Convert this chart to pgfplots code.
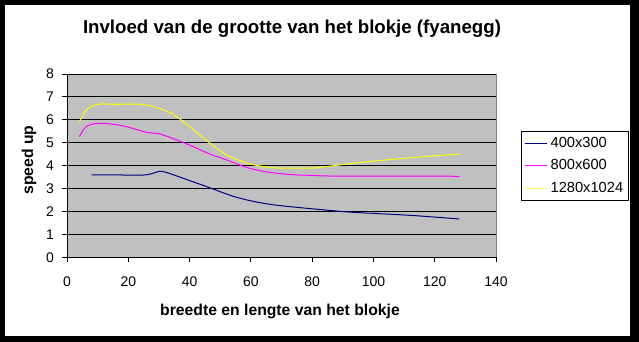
\documentclass[border=0pt]{standalone}
\usepackage{pgfplots}
\pgfplotsset{compat=1.18}
\usepackage{fontspec}
\setmainfont{Liberation Sans}
\definecolor{bgGray}{HTML}{C0C0C0}
\definecolor{brdGray}{HTML}{808080}
\definecolor{navy}{HTML}{000080}
\definecolor{mag}{HTML}{FF00FF}
\definecolor{yel}{HTML}{FFFF00}
\begin{document}
\begin{tikzpicture}[x=0.75pt,y=0.75pt]
\fill[black] (0,0) rectangle (639,342);
\fill[white] (5,6) rectangle (630,337);
\useasboundingbox (0,0) rectangle (639,342);
\node[font=\bfseries\fontsize{14pt}{16pt}\selectfont] at (292,313) {Invloed van de grootte van het blokje (fyanegg)};
\node[font=\bfseries\fontsize{11.8pt}{14pt}\selectfont] at (280,31) {breedte en lengte van het blokje};
\node[font=\bfseries\fontsize{11.8pt}{14pt}\selectfont, rotate=90] at (29,182) {speed up};
\begin{axis}[
  at={(50.25pt,63.375pt)}, anchor=south west,
  scale only axis, width=321.75pt, height=137.6pt,
  xmin=0, xmax=140, ymin=0, ymax=8,
  xtick={0,20,...,140}, ytick={0,1,...,8},
  axis background/.style={fill=bgGray, draw=brdGray, line width=0.75pt},
  axis x line*=bottom, axis y line*=left,
  axis line style={black, line width=0.75pt, -},
  tick align=outside, major tick length=3.75pt,
  tick style={black, line width=0.75pt},
  ymajorgrids, major grid style={black, line width=0.75pt},
  /pgf/number format/assume math mode=true,
  ticklabel style={font=\fontsize{10.5pt}{12pt}\selectfont},
  xticklabel style={yshift=-7pt},
  yticklabel style={xshift=-2.6pt},
  legend style={at={(1,0.5)}, anchor=west, xshift=18.75pt, draw=black, line width=0.75pt,
    font=\fontsize{11pt}{13pt}\selectfont, row sep=3.5pt, fill=white, inner xsep=2pt, inner ysep=2.5pt},
  legend cell align=left,
]
\addplot[navy, line width=0.75pt, smooth] coordinates {
(8,3.6)(16,3.6)(25.5,3.6)(30,3.75)(32.4,3.71)(37.8,3.46)(43.3,3.2)(48.8,2.93)(54.2,2.67)(60.7,2.45)(68.4,2.28)(80.3,2.12)(91.2,1.99)(102,1.91)(113,1.83)(128,1.68)};
\addlegendentry{400x300}
\addplot[mag, line width=0.75pt, smooth] coordinates {
(4,5.27)(6.3,5.71)(10,5.85)(15,5.81)(19.3,5.71)(25.9,5.46)(30.2,5.39)(35.7,5.13)(41.1,4.84)(46.6,4.51)(52,4.26)(58.6,3.93)(65.1,3.73)(73.8,3.61)(80,3.58)(88,3.55)(122,3.55)(128,3.52)};
\addlegendentry{800x600}
\addplot[yel, line width=0.75pt, smooth] coordinates {
(4,5.9)(6.3,6.43)(10,6.68)(16,6.68)(24,6.68)(29,6.55)(34.6,6.25)(40,5.71)(46.6,4.99)(52,4.48)(58.6,4.12)(64,3.97)(69,3.9)(80,3.9)(85,3.97)(96.7,4.16)(113,4.36)(128,4.51)};
\addlegendentry{1280x1024}
\end{axis}
\end{tikzpicture}
\end{document}
